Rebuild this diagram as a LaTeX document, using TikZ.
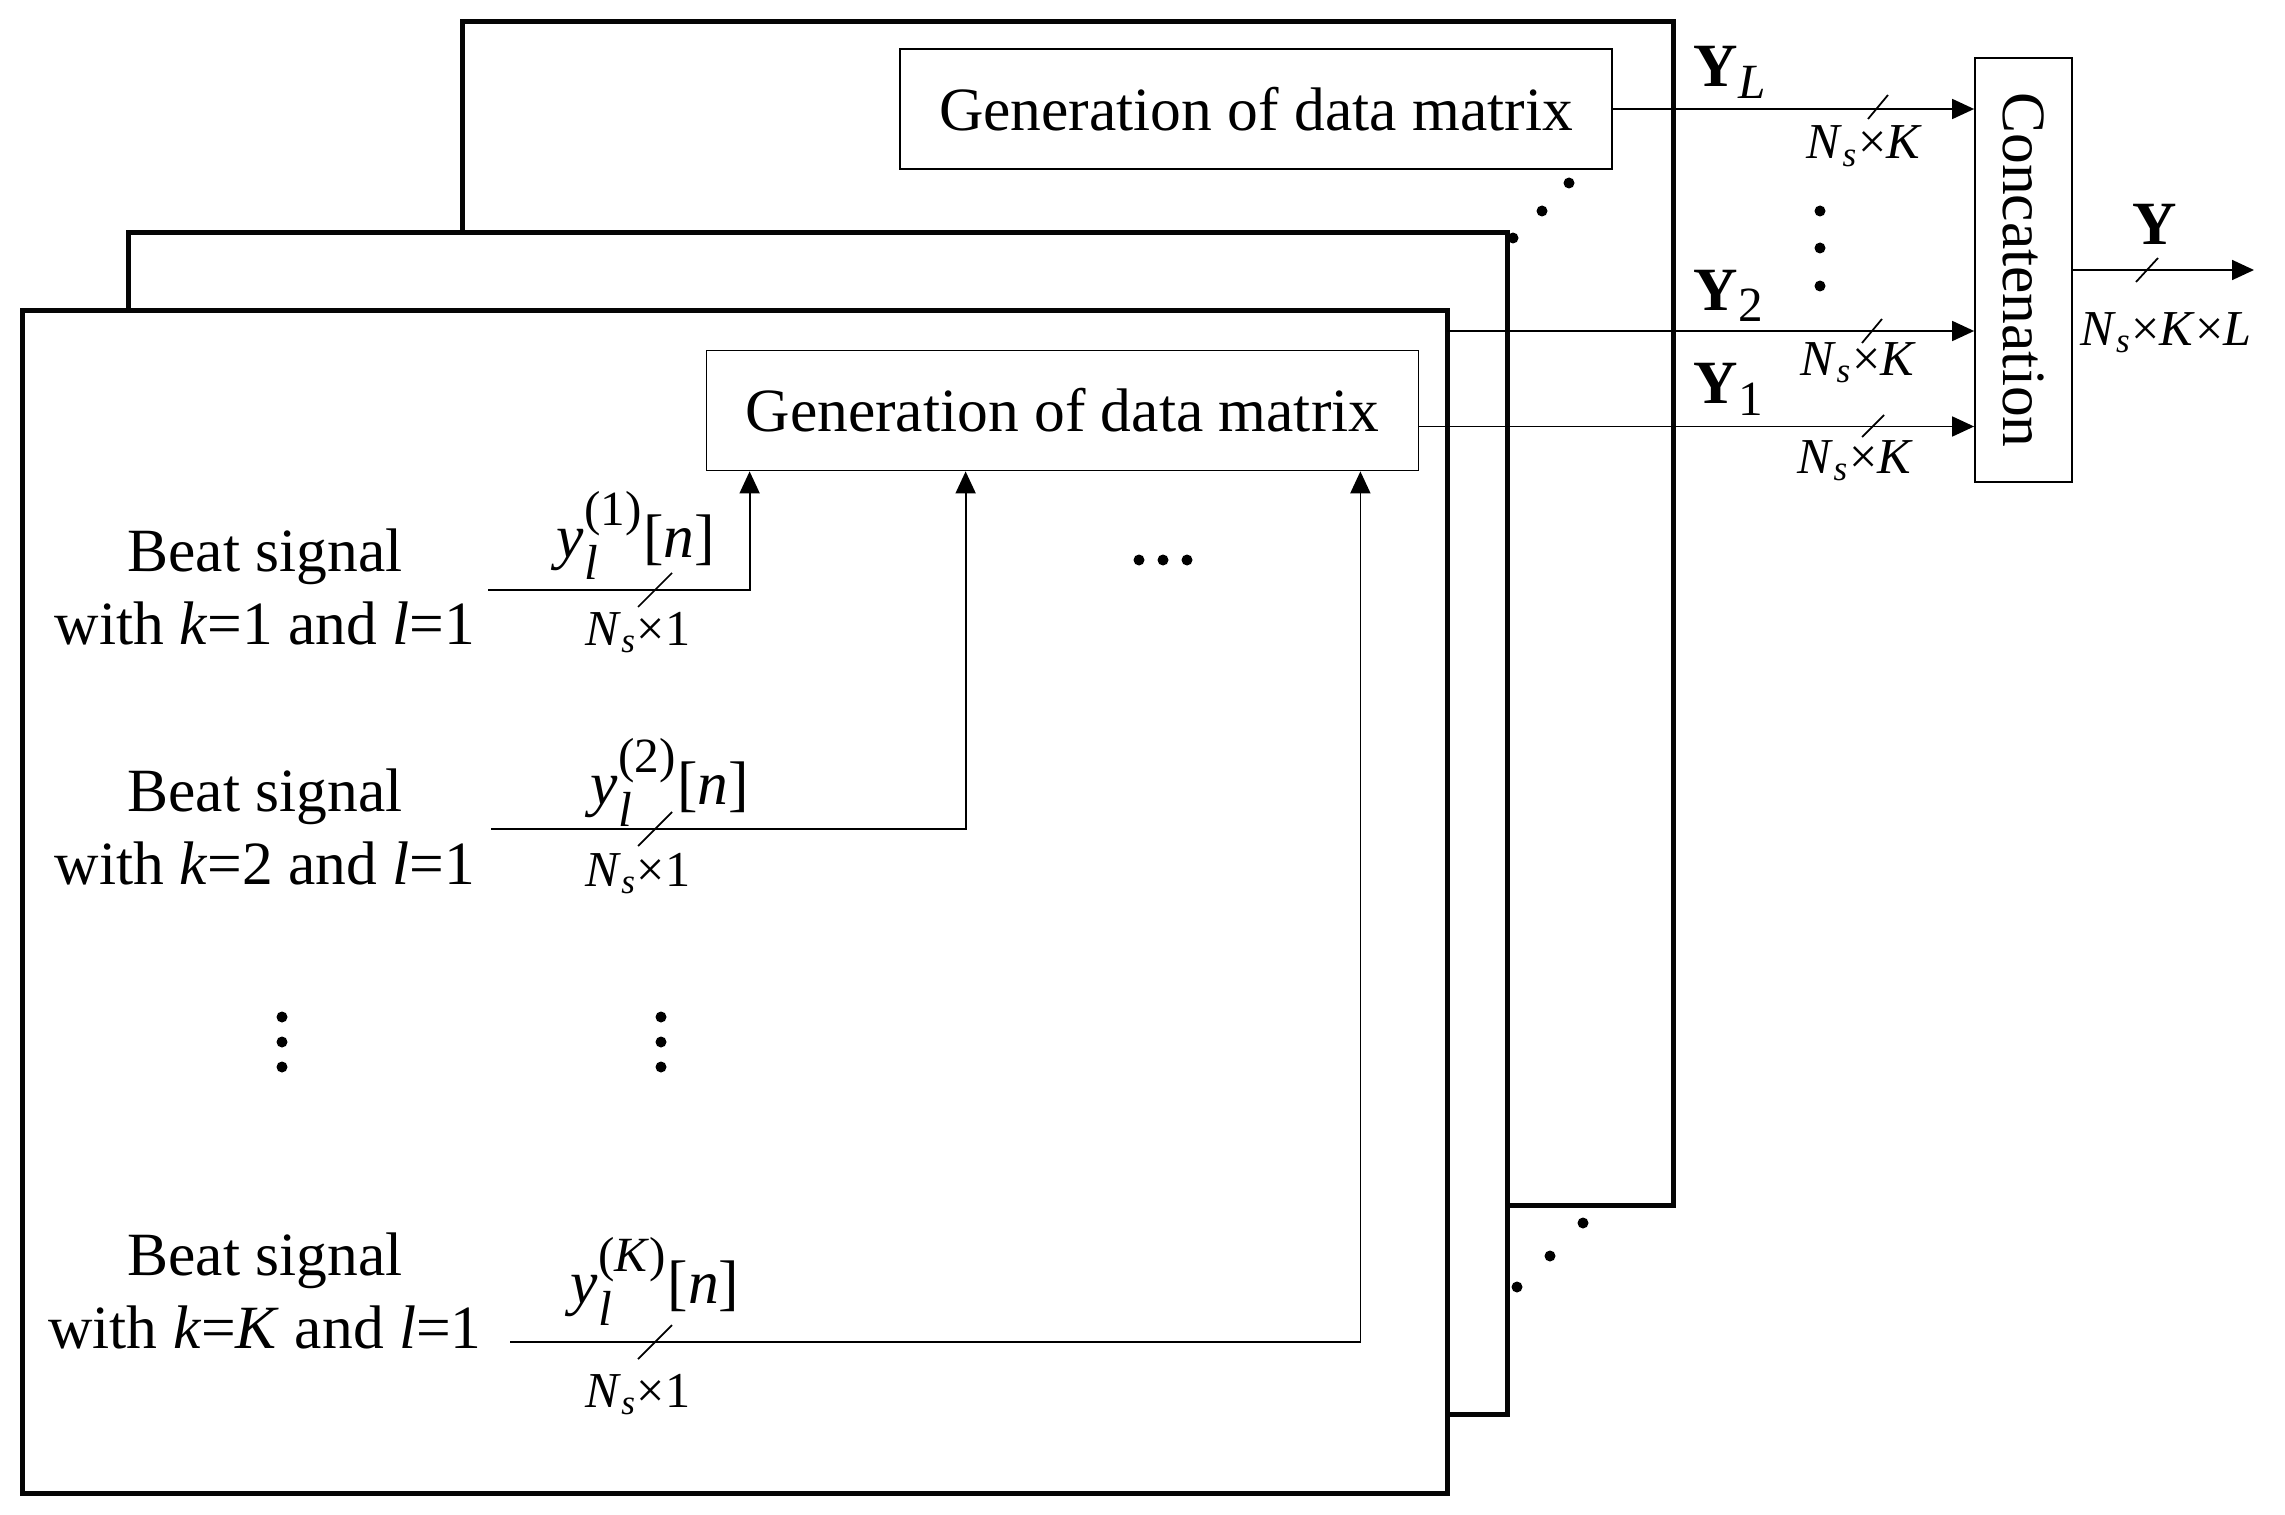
\documentclass[tikz,border=0pt]{standalone}
\usepackage{amsmath}
\usepackage{graphicx}
\usepackage{fontspec}
\setmainfont{Liberation Serif}
\usepackage{tikz}
\usetikzlibrary{arrows.meta}
\definecolor{DMBlack}{HTML}{050505}
\DeclareMathSizes{17.5}{17.5}{14}{10}
\DeclareMathSizes{14.3}{14.3}{10}{7}
\newcommand{\bigtxt}{\fontsize{17.5}{21}\selectfont}
\newcommand{\dimtxt}{\fontsize{14.3}{17}\selectfont}
\newcommand{\nsdim}{\textit{N}$_{\textit{s}}$}
\tikzset{
  frame/.style={draw=DMBlack,line width=0.05cm,fill=white},
  genbox/.style={draw,line width=0.5pt,fill=white,minimum width=7.12cm,minimum height=1.20cm,inner sep=0pt,font=\bigtxt},
  catbox/.style={draw,line width=0.5pt,minimum width=0.97cm,minimum height=4.24cm,inner sep=0pt,font=\bigtxt},
  sig/.style={line width=0.5pt,-{Triangle[length=0.22cm,width=0.2cm]}},
  wire/.style={line width=0.5pt},
  beat/.style={align=center,inner sep=0pt,font=\bigtxt},
  lbl/.style={anchor=base,inner sep=0pt,font=\bigtxt},
  dimlbl/.style={anchor=base,inner sep=0pt,font=\dimtxt}
}
\begin{document}
\begin{tikzpicture}[x=1cm,y=1cm]
\path[use as bounding box] (0,0) rectangle (22.85,15.14);
% back layer (l=L)
\draw[frame] (4.62,3.09) rectangle (16.73,14.92);
\node[genbox] (genL) at (12.56,14.05) {Generation of data matrix};
\node[catbox] (concat) at (20.235,12.44) {\rotatebox{-90}{Concatenation}};
\draw[sig] (genL.east) -- (genL.east -| concat.west);
\draw[wire] (18.78,14.07) +(-0.10,-0.12) -- +(0.10,0.12);
\node[lbl,anchor=base west] (yL) at (16.93,14.27) {$\textbf{Y}_{\textit{L}}$};
\node[dimlbl,anchor=base west] (dimL) at (18.06,13.55) {\nsdim×\textit{K}};
\fill (15.69,13.31) circle (0.055);
\fill (15.42,13.03) circle (0.055);
\fill (15.13,12.76) circle (0.055);
% middle and front layers
\draw[frame] (1.28,1.00) rectangle (15.07,12.81);
\draw[frame] (0.22,0.21) rectangle (14.47,12.04);
\fill (15.83,2.91) circle (0.055);
\fill (15.50,2.58) circle (0.055);
\fill (15.17,2.27) circle (0.055);
\node[genbox] (gen1) at (10.625,11.035) {Generation of data matrix};
\fill (11.39,9.54) circle (0.055);
\fill (11.63,9.54) circle (0.055);
\fill (11.87,9.54) circle (0.055);
% beat signals
\node[beat] (beat1) at (2.65,9.27) {Beat signal\\with \textit{k}=1 and \textit{l}=1};
\node[beat] (beat2) at (2.65,6.87) {Beat signal\\with \textit{k}=2 and \textit{l}=1};
\node[beat] (beatK) at (2.65,2.23) {Beat signal\\with \textit{k}=\textit{K} and \textit{l}=1};
\coordinate (s1) at (4.88,9.24);
\coordinate (s2) at (4.91,6.85);
\coordinate (sK) at (5.10,1.72);
\draw[sig] (s1) -| ([xshift=0.44cm]gen1.south west);
\draw[sig] (s2) -| ([xshift=2.60cm]gen1.south west);
\draw[sig] (sK) -| ([xshift=-0.59cm]gen1.south east);
\draw[wire] (6.55,9.24) +(-0.17,-0.17) -- +(0.17,0.17);
\draw[wire] (6.55,6.85) +(-0.17,-0.17) -- +(0.17,0.17);
\draw[wire] (6.55,1.72) +(-0.17,-0.17) -- +(0.17,0.17);
\node[lbl] (y1) at (6.36,9.57) {$\textit{y}_{\textit{l}}^{\textrm{(1)}}$[\textit{n}]};
\node[lbl] (y2) at (6.70,7.10) {$\textit{y}_{\textit{l}}^{\textrm{(2)}}$[\textit{n}]};
\node[lbl] (yK) at (6.55,2.11) {$\textit{y}_{\textit{l}}^{\textrm{(\textit{K})}}$[\textit{n}]};
\node[dimlbl] (d1) at (6.38,8.69) {\nsdim×1};
\node[dimlbl] (d2) at (6.38,6.28) {\nsdim×1};
\node[dimlbl] (dK) at (6.38,1.07) {\nsdim×1};
\fill (2.82,4.97) circle (0.055);
\fill (2.82,4.72) circle (0.055);
\fill (2.82,4.47) circle (0.055);
\fill (6.61,4.97) circle (0.055);
\fill (6.61,4.72) circle (0.055);
\fill (6.61,4.47) circle (0.055);
% outputs to concatenation
\coordinate (y2src) at (14.47,11.83);
\coordinate (y1src) at ([yshift=-0.16cm]gen1.east);
\draw[sig] (y2src) -- (y2src -| concat.west);
\draw[sig] (y1src) -- (y1src -| concat.west);
\draw[wire] (18.72,11.83) +(-0.10,-0.12) -- +(0.10,0.12);
\draw[wire] (18.73,10.88) +(-0.11,-0.11) -- +(0.11,0.11);
\node[lbl,anchor=base west] (yTwo) at (16.93,12.04) {$\textbf{Y}_{\textrm{2}}$};
\node[lbl,anchor=base west] (yOne) at (16.93,11.10) {$\textbf{Y}_{\textrm{1}}$};
\node[dimlbl,anchor=base west] (dim2) at (18.00,11.39) {\nsdim×\textit{K}};
\node[dimlbl,anchor=base west] (dim1) at (17.97,10.41) {\nsdim×\textit{K}};
\fill (18.20,13.03) circle (0.055);
\fill (18.20,12.66) circle (0.055);
\fill (18.20,12.28) circle (0.055);
\coordinate (yout) at (22.54,12.44);
\draw[sig] (concat.east) -- (yout);
\draw[wire] (21.47,12.44) +(-0.11,-0.12) -- +(0.11,0.12);
\node[lbl] (yAll) at (21.55,12.70) {\textbf{Y}};
\node[dimlbl] (dimAll) at (21.66,11.69) {\nsdim×\textit{K}×\textit{L}};
\end{tikzpicture}
\end{document}
